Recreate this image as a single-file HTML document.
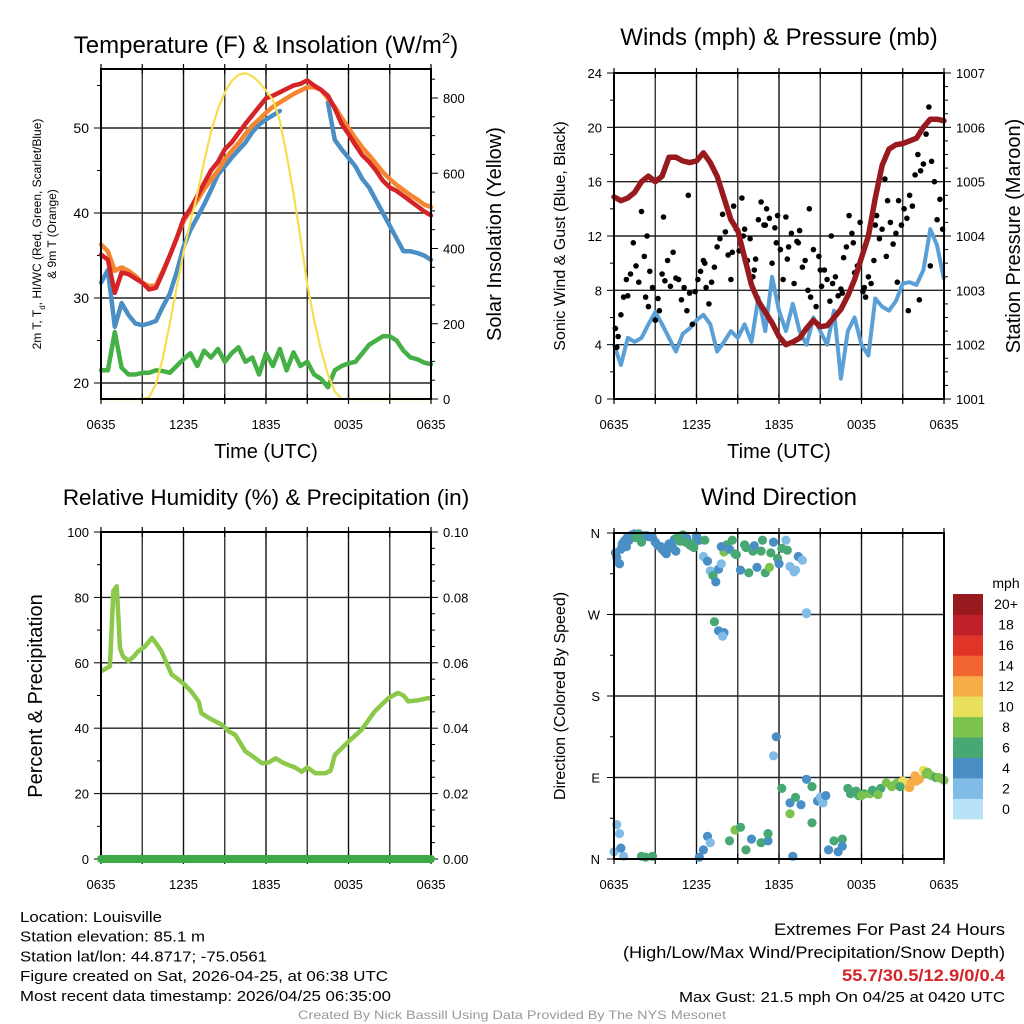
<!DOCTYPE html>
<html><head><meta charset="utf-8"><style>
html,body{margin:0;padding:0;background:#fff;}
svg{display:block;font-family:"Liberation Sans",Arial,sans-serif;}
</style></head><body>
<svg id="fig" width="1024" height="1024" viewBox="0 0 1024 1024" xmlns="http://www.w3.org/2000/svg"></svg>
<script>
// ---------- data (hours after 0635 UTC) ----------
const xTickLabels = ["0635","1235","1835","0035","0635"];
const halfHours = [0,0.5,1,1.5,2,2.5,3,3.5,4,4.5,5,5.5,6,6.5,7,7.5,8,8.5,9,9.5,10,10.5,11,11.5,12,12.5,13,13.5,14,14.5,15,15.5,16,16.5,17,17.5,18,18.5,19,19.5,20,20.5,21,21.5,22,22.5,23,23.5,24];
const temp2m = [35.1,34.5,30.6,33,32.8,32.3,31.8,31,31.2,33,35,37,39.3,40.5,42,43.5,45,46,47.5,48.3,49.4,50.5,51.5,52.5,53.5,53.8,54.2,54.6,55,55.2,55.6,55,54.5,53.8,52.3,50.5,49.3,48,46.8,46,45,43.8,43,42.6,42,41.4,40.8,40.2,39.7];
const temp9m = [36.3,35.5,33.2,33.6,33.2,32.6,31.8,31.4,31.5,33.2,35,37,39,40.3,41.5,42.8,43.9,45,46.3,47.3,48.2,49.3,50.3,51,51.8,52.5,53,53.5,54,54.4,54.8,54.8,54.5,53.5,52.5,51.2,50,48.8,47.7,46.8,45.8,44.8,44,43.3,42.7,42.1,41.6,41,40.7];
const heatWindChill = [31.8,33.3,26.6,29.4,28,27,26.8,27,27.3,29,30.5,33,36,38,39.5,41,42.7,44.5,45.5,46.5,47.4,48.3,49.5,50.4,51,51.5,52,null,null,null,null,null,null,53,48.6,47.5,46.5,45.5,44,43,41.5,40,38.5,37,35.5,35.5,35.3,35,34.5];
const dewPoint = [21.5,21.5,26,21.8,21,21,21.2,21.2,21.5,21.4,21.2,22,22.8,23.5,22,23.8,23,24,22.5,23.5,24.2,22.5,23,21,23.5,22,24,21.5,23.6,22,22.5,21,20.5,19.5,21.5,22,22.3,22.5,23.5,24.5,25,25.5,25.5,25,23.8,23,22.8,22.4,22.2];
const solar = [0,0,0,0,0,0,0,5,40,110,200,295,390,470,545,630,710,770,815,845,862,866,858,842,820,795,740,650,545,430,305,210,130,65,20,0,0,0,0,0,0,0,0,0,0,0,0,0,0];
const pressure = [1004.72,1004.65,1004.7,1004.8,1005,1005.1,1005,1005.1,1005.45,1005.45,1005.38,1005.35,1005.38,1005.53,1005.35,1005.1,1004.7,1004.3,1004.1,1003.6,1003.1,1002.8,1002.6,1002.4,1002.15,1002,1002.05,1002.12,1002.3,1002.45,1002.33,1002.35,1002.5,1002.65,1002.9,1003.2,1003.6,1004,1004.7,1005.3,1005.6,1005.68,1005.7,1005.75,1005.8,1006,1006.15,1006.15,1006.12];
const sonicWind = [4,2.5,4.5,4.2,4.5,5.5,6.4,5.5,4.5,3.5,4.8,5.2,5.8,6.2,5.5,3.5,4.2,5,4.5,5.5,4.2,7.5,5,9,6.5,5,7,5,4,6,5,4,6.5,1.5,5,6,4,3.2,7.4,6.8,6.5,7.2,8.5,8.6,8.4,9.5,12.5,11.3,8.8];
const gustHours = [0.1,0.2,0.3,0.5,0.7,0.9,1.0,1.2,1.4,1.6,1.8,2.0,2.2,2.3,2.5,2.6,2.8,3.0,3.2,3.3,3.5,3.7,3.9,4.1,4.3,4.5,4.7,4.9,5.1,5.3,5.5,5.7,5.9,6.1,6.3,6.5,6.7,6.9,7.1,7.3,7.5,7.7,7.9,8.1,8.3,8.5,8.7,8.9,9.1,9.3,9.5,9.7,9.9,10.1,10.3,10.5,10.7,10.9,11.1,11.3,11.5,11.7,11.9,12.1,12.3,12.5,12.7,12.9,13.1,13.3,13.5,13.7,13.9,14.1,14.3,14.5,14.7,14.9,15.1,15.3,15.5,15.7,15.9,16.1,16.3,16.5,16.7,16.9,17.1,17.3,17.5,17.7,17.9,18.1,18.3,18.5,18.7,18.9,19.1,19.3,19.5,19.7,19.9,20.1,20.3,20.5,20.7,20.9,21.1,21.3,21.5,21.7,21.9,22.1,22.3,22.5,22.7,22.9,23.1,23.3,23.5,23.7,23.9,8.6,9.4,10.2,11.0,11.8,12.6,13.4,14.2,15.0,15.8,16.6,17.4,18.2,19.0,19.8,20.6,21.4,22.2,23.0,2.4,3.6,5.4,6.6];
const gustValues = [5.2,3.8,4.6,6.2,7.5,8.8,7.6,9.2,11.5,9.8,8.6,13.8,10.5,7.5,6.8,9.4,8.2,5.8,7.4,6.5,9.2,8.7,10.2,8.3,10.8,8.9,8.8,7.3,8.2,6.5,7.8,5.5,7.9,8.8,9.4,10.2,8.2,7.0,8.6,9.7,11.2,11.8,13.6,12.3,10.6,8.8,14.2,12.5,10.9,14.8,12.5,10.2,11.8,9.0,10.3,13.2,14.5,12.8,14.0,13.3,10.0,12.6,13.5,11.0,8.8,13.4,11.2,12.2,8.5,11.6,12.4,9.7,10.2,8.0,7.5,11.0,6.8,10.5,8.3,9.5,8.8,7.2,8.5,9.0,7.6,8.1,10.4,11.2,13.5,12.2,9.3,9.8,13.0,7.9,7.5,9.0,8.5,10.2,13.5,11.8,12.5,16.2,14.6,13.0,11.4,12.2,14.6,12.8,14.0,13.3,15.0,14.2,16.5,18.0,16.8,17.3,19.5,21.5,17.5,16.0,13.2,14.7,12.5,10.8,12.0,9.5,12.8,11.5,10.3,11.5,14.0,9.5,12.0,7.8,11.5,8.2,12.8,10.5,8.6,6.5,7.3,9.8,12.0,13.4,15.0,10.0,9.0,10.5,8.0,8.3];
const dirHours = [0.1,0.2,0.4,0.5,0.7,0.9,1.0,1.1,1.3,1.5,1.8,2.2,2.5,2.8,3.0,3.2,3.5,3.7,3.9,4.2,4.4,4.6,5.0,5.3,5.6,5.9,6.2,6.5,6.8,7.0,7.2,7.4,7.6,7.8,8.0,8.2,8.6,8.9,9.2,9.5,9.8,10.1,10.4,10.7,11.0,11.3,11.6,11.9,12.2,12.5,12.8,13.1,13.4,13.7,14.0,7.3,7.6,8.0,7.9,14.0,0.0,0.2,0.4,0.5,0.7,2.0,2.3,2.8,6.2,6.5,6.8,7.0,8.4,8.8,9.2,9.6,10.0,10.7,11.2,11.8,11.6,12.2,12.8,13.2,13.6,14.0,14.4,14.8,15.2,15.6,16.0,16.3,16.6,15.0,15.4,11.2,12.8,14.4,13.0,16.6,17.0,17.4,17.8,18.2,18.6,19.0,19.4,19.8,20.2,20.6,21.0,21.3,21.6,21.9,22.2,22.5,22.8,23.1,23.4,23.8,24.0,0.6,0.8,1.6,2.0,2.4,3.4,3.6,3.8,4.0,4.3,4.5,4.8,5.2,5.5,5.8,6.0,6.6,7.8,8.4,8.8,9.6,10.2,10.8,11.4,12.0,12.6,13.2,17.2,17.6,18.0,18.8,19.2,20.4,20.8,21.5,22.0,22.7,23.6];
const dirDegrees = [338,333,326,342,350,345,356,352,358,359,359,357,356,355,350,346,342,339,344,348,353,355,358,354,346,350,352,334,329,318,313,306,320,326,339,347,352,336,319,347,316,340,322,340,316,322,350,332,343,352,323,317,334,330,271,262,252,250,246,272,8,38,28,12,3,3,2,3,2,10,25,18,20,32,35,10,22,18,20,135,114,78,62,68,60,88,80,64,62,10,20,8,22,68,70,28,50,40,3,14,78,74,70,72,72,74,78,84,80,84,86,80,84,92,88,98,96,92,90,89,87,348,352,355,350,357,345,341,337,348,343,340,351,350,347,344,357,352,345,342,337,344,346,352,338,326,341,319,72,75,70,76,71,82,80,79,86,94,90];
const dirSpeeds = [4,4,4,4,4,4,4,5,4,5,6,6,5,4,4,4,6,6,6,5,4,6,6,5,6,6,4,2,4,2,6,4,4,2,8,6,6,7,4,6,6,7,5,7,6,8,4,6,6,3,2,3,5,3,2,6,4,4,3,2,2,2,2,4,2,6,6,6,4,4,4,3,7,8,6,7,5,6,4,4,3,6,4,6,5,4,6,4,3,4,6,4,6,2,5,7,8,6,4,4,7,7,6,6,8,7,7,8,8,8,10,11,12,12,13,10,9,8,7,7,8,4,4,6,6,4,4,4,5,4,4,4,6,6,7,6,4,6,4,5,6,7,4,6,7,4,6,3,6,6,8,7,8,8,7,12,12,8,8];
const rhHours = [0,0.65,0.9,1.14,1.38,1.6,1.99,2.4,2.7,3.2,3.7,4.0,4.4,5.14,5.6,6.1,6.6,7.1,7.3,7.9,8.8,9.3,9.75,10.5,11.0,11.7,12.2,12.7,13.2,13.6,14.1,14.6,15.0,15.6,16.3,16.7,17.0,18.0,18.95,19.9,20.9,21.6,22.0,22.35,23.0,23.8,24];
const rhValues = [57.4,58.9,82,83.4,64.5,62,60.5,62,63.5,65,67.6,66,63.5,56.4,55,53.3,51,48.2,44.6,43,41,39,38,32.9,31.5,29.3,29.5,30.8,29.5,28.8,28,26.7,28,26.2,26.2,27,31.8,35.9,39.5,45.1,49.2,50.8,50,48.2,48.5,49.2,49];
const precipValues = [0,0];
const speedLevels = ["0","2","4","6","8","10","12","14","16","18","20+"];
const speedColors = ["#b8e2f8","#80bce6","#4a8ec6","#48a874","#7dc24d","#e8e05a","#f8ac48","#f26430","#e03428","#c0202a","#961a1e"];

// ---------- helpers ----------
const NS="http://www.w3.org/2000/svg";
const svg=document.getElementById('fig');
function mk(tag,attrs,parent){const e=document.createElementNS(NS,tag);for(const k in attrs)e.setAttribute(k,attrs[k]);(parent||svg).appendChild(e);return e;}
function txt(s,x,y,size,anchor,parent,extra){const t=mk('text',Object.assign({x:x,y:y,'font-size':size,'text-anchor':anchor||'middle',fill:'#000'},extra||{}),parent);t.textContent=s;return t;}
function scale(d0,d1,r0,r1){return v=>r0+(v-d0)/(d1-d0)*(r1-r0);}
function pathFrom(xs,ys,fx,fy){let d='',pen=false;for(let i=0;i<xs.length;i++){if(ys[i]===null){pen=false;continue;}d+=(pen?'L':'M')+fx(xs[i]).toFixed(1)+' '+fy(ys[i]).toFixed(1);pen=true;}return d;}
function speedColor(s){let i=Math.min(10,Math.max(0,Math.floor(s/2)));return speedColors[i];}

function frame(g,P,leftTicks,fyL,gridYs,rightMinor,fyR){
  const fx=scale(0,24,P.x0,P.x1);
  for(let h=0;h<=24;h+=3){const x=fx(h);
    const l=mk('line',{x1:x,y1:P.y0,x2:x,y2:P.y1,stroke:(h%6===0?'#111':'#333'),'stroke-width':1.4},g);
    
    mk('line',{x1:x,y1:P.y1-5,x2:x,y2:P.y1+5,stroke:'#000','stroke-width':1.2},g);
    mk('line',{x1:x,y1:P.y0-5,x2:x,y2:P.y0+5,stroke:'#000','stroke-width':1.2},g);}
  gridYs.forEach(v=>{const y=fyL(v);const l=mk('line',{x1:P.x0,y1:y,x2:P.x1,y2:y,stroke:'#222','stroke-width':1.4},g);
    });
  leftTicks.forEach(t=>{const y=fyL(t.v);mk('line',{x1:P.x0-(t.major?7:4),y1:y,x2:P.x0,y2:y,stroke:'#000','stroke-width':1},g);});
  (rightMinor||[]).forEach(t=>{const y=fyR(t.v);mk('line',{x1:P.x1,y1:y,x2:P.x1+(t.major?7:4),y2:y,stroke:'#000','stroke-width':1},g);});
  xTickLabels.forEach((s,i)=>{const t=txt(s,fx(i*6),P.y1+30,13,'middle',g);});
  return fx;
}
function border(g,P){const r=mk('rect',{x:P.x0,y:P.y0,width:P.x1-P.x0,height:P.y1-P.y0,fill:'none',stroke:'#000','stroke-width':2},g);}

// ---------- Panel 1 ----------
(function(){
  const P={x0:101,x1:431,y0:69,y1:399};
  const g=mk('g',{});
  const fyT=scale(20,30,383,298); const fyS=scale(0,800,399,98);
  const lt=[];for(let v=20;v<=55;v+=5)lt.push({v:v,major:v%10===0});
  const rt=[];for(let v=0;v<=850;v+=50)rt.push({v:v,major:v%200===0});
  const fx=frame(g,P,lt,fyT,[20,30,40,50],rt,fyS);
  [20,30,40,50].forEach(v=>{const t=txt(String(v),P.x0-12,fyT(v)+5,14,'end',g);});
  [0,200,400,600,800].forEach(v=>{const t=txt(String(v),P.x1+12,fyS(v)+5,13,'start',g);});
  const series=[['dew-point-line',dewPoint,'#45b045',fyT,4.5],['wind-chill-line',heatWindChill,'#4a8ec6',fyT,4.5],['temp-9m-line',temp9m,'#f5852e',fyT,4.5],['temp-2m-line',temp2m,'#d42428',fyT,4.5],['solar-line',solar,'#f7de50',fyS,2.2]];
  series.forEach(s=>{const p=mk('path',{d:pathFrom(halfHours,s[1],fx,s[3]),fill:'none',stroke:s[2],'stroke-width':s[4],'stroke-linejoin':'round','stroke-linecap':'round'},g);
    });
  border(g,P);
  const t1=mk('text',{x:266,y:53,'font-size':24,'text-anchor':'middle'},g);
  t1.innerHTML='Temperature (F) &amp; Insolation (W/m<tspan dy="-10" font-size="15">2</tspan><tspan dy="10">)</tspan>';
  const a=mk('text',{x:0,y:0,'font-size':12,'text-anchor':'middle',transform:'translate(41,234) rotate(-90)'},g);
  a.innerHTML='2m T, T<tspan dy="4" font-size="8">d</tspan><tspan dy="-4">, HI/WC (Red, Green, Scarlet/Blue)</tspan>';
  const b=txt('& 9m T (Orange)',0,0,12,'middle',g,{transform:'translate(56,234) rotate(-90)'});
  const c=txt('Solar Insolation (Yellow)',0,0,20,'middle',g,{transform:'translate(501,234) rotate(-90)'});
  const d=txt('Time (UTC)',266,458,20,'middle',g);
})();

// ---------- Panel 2 ----------
(function(){
  const P={x0:614,x1:944,y0:73,y1:399};
  const g=mk('g',{});
  const fyW=scale(0,24,399,73); const fyP=scale(1001,1007,399,73);
  const lt=[];for(let v=0;v<=24;v+=2)lt.push({v:v,major:v%4===0});
  const rt=[];for(let v=1001;v<=1007.001;v+=0.25)rt.push({v:v,major:Math.abs(v-Math.round(v))<0.01});
  const fx=frame(g,P,lt,fyW,[4,8,12,16,20],rt,fyP);
  [0,4,8,12,16,20,24].forEach(v=>{const t=txt(String(v),P.x0-12,fyW(v)+5,13,'end',g);});
  [1001,1002,1003,1004,1005,1006,1007].forEach(v=>{const t=txt(String(v),P.x1+12,fyP(v)+5,13,'start',g);});
  const w=mk('path',{d:pathFrom(halfHours,sonicWind,fx,fyW),fill:'none',stroke:'#5a9fd6','stroke-width':4,'stroke-linejoin':'round'},g);
  
  for(let i=0;i<gustHours.length;i++){const c=mk('circle',{cx:fx(gustHours[i]).toFixed(1),cy:fyW(gustValues[i]).toFixed(1),r:2.8,fill:'#000'},g);
    }
  const p=mk('path',{d:pathFrom(halfHours,pressure,fx,fyP),fill:'none',stroke:'#981a1e','stroke-width':5.5,'stroke-linejoin':'round','stroke-linecap':'round'},g);
  
  border(g,P);
  const t=txt('Winds (mph) & Pressure (mb)',779,45,24,'middle',g);
  const a=txt('Sonic Wind & Gust (Blue, Black)',0,0,16,'middle',g,{transform:'translate(565,236) rotate(-90)'});
  const b=txt('Station Pressure (Maroon)',0,0,20,'middle',g,{transform:'translate(1020,236) rotate(-90)'});
  const d=txt('Time (UTC)',779,458,20,'middle',g);
})();

// ---------- Panel 3 ----------
(function(){
  const P={x0:101,x1:431,y0:532,y1:859};
  const g=mk('g',{});
  const fy=scale(0,100,859,532); const fyPr=scale(0,0.1,859,532);
  const lt=[];for(let v=0;v<=100;v+=10)lt.push({v:v,major:v%20===0});
  const rt=[];for(let v=0;v<=0.1001;v+=0.005)rt.push({v:v,major:Math.round(v*1000)%20===0});
  const fx=frame(g,P,lt,fy,[20,40,60,80],rt,fyPr);
  [0,20,40,60,80,100].forEach(v=>{const t=txt(String(v),P.x0-12,fy(v)+5,13,'end',g);});
  ["0.00","0.02","0.04","0.06","0.08","0.10"].forEach(s=>{const t=txt(s,P.x1+12,fyPr(parseFloat(s))+5,13,'start',g);});
  const r=mk('path',{d:pathFrom(rhHours,rhValues,fx,fy),fill:'none',stroke:'#8cc84a','stroke-width':4.5,'stroke-linejoin':'round'},g);
  
  border(g,P);
  const pr=mk('path',{d:pathFrom([0,24],precipValues,fx,fyPr),fill:'none',stroke:'#3faa45','stroke-width':8,'stroke-linecap':'round'},g);
  
  const t=txt('Relative Humidity (%) & Precipitation (in)',266,505,22.5,'middle',g);
  const a=txt('Percent & Precipitation',0,0,20,'middle',g,{transform:'translate(42,696) rotate(-90)'});
})();

// ---------- Panel 4 ----------
(function(){
  const P={x0:614,x1:944,y0:533,y1:859};
  const g=mk('g',{});
  const fy=scale(0,360,859,533);
  const lt=[];for(let v=0;v<=360;v+=45)lt.push({v:v,major:v%90===0});
  const fx=frame(g,P,lt,fy,[90,180,270],[],null);
  [["N",0],["E",90],["S",180],["W",270],["N",360]].forEach(d=>{const t=txt(d[0],P.x0-14,fy(d[1])+5,13,'end',g);});
  for(let i=0;i<dirHours.length;i++){const c=mk('circle',{cx:fx(dirHours[i]).toFixed(1),cy:fy(dirDegrees[i]).toFixed(1),r:4.6,fill:speedColor(dirSpeeds[i])},g);
    }
  border(g,P);
  const t=txt('Wind Direction',779,505,24,'middle',g);
  const a=txt('Direction (Colored By Speed)',0,0,16,'middle',g,{transform:'translate(565,696) rotate(-90)'});
  const cb=mk('g',{},g);
  const bh=(819-594)/speedLevels.length;
  speedLevels.forEach((s,i)=>{const y=819-(i+1)*bh;
    const r=mk('rect',{x:953,y:y.toFixed(1),width:30,height:(bh+0.3).toFixed(1),fill:speedColors[i]},cb);
    const l=txt(s,1006,y+bh/2+5,14,'middle',cb);});
  const m=txt('mph',1006,588,14,'middle',cb);
})();

// ---------- footer ----------
(function(){
  const g=mk('g',{});
  const lines=["Location: Louisville","Station elevation: 85.1 m","Station lat/lon: 44.8717; -75.0561","Figure created on Sat, 2026-04-25, at 06:38 UTC","Most recent data timestamp: 2026/04/25 06:35:00"];
  const lens=[142,185,247,368,371];
  lines.forEach((s,i)=>{const t=txt(s,20,922+i*19.7,15,'start',g,{textLength:lens[i],lengthAdjust:'spacingAndGlyphs'});});
  const r1=txt('Extremes For Past 24 Hours',1005,935,17,'end',g,{textLength:231,lengthAdjust:'spacingAndGlyphs'});
  const r2=txt('(High/Low/Max Wind/Precipitation/Snow Depth)',1005,958,17,'end',g,{textLength:382,lengthAdjust:'spacingAndGlyphs'});
  const r3=txt('55.7/30.5/12.9/0/0.4',1005,981,17,'end',g,{fill:'#d42428','font-weight':'bold',textLength:163,lengthAdjust:'spacingAndGlyphs'});
  const r4=txt('Max Gust: 21.5 mph On 04/25 at 0420 UTC',1005,1002,15,'end',g,{textLength:326,lengthAdjust:'spacingAndGlyphs'});
  const c=txt('Created By Nick Bassill Using Data Provided By The NYS Mesonet',512,1019,12,'middle',g,{fill:'#999',textLength:428,lengthAdjust:'spacingAndGlyphs'});
})();
</script>
</body></html>
